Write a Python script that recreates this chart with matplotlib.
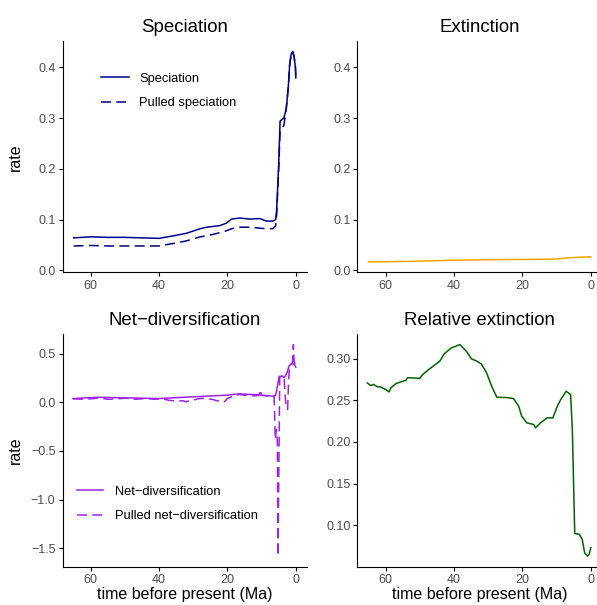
import matplotlib
matplotlib.use("Agg")
import matplotlib.pyplot as plt

plt.rcParams['font.family'] = ['Liberation Sans', 'DejaVu Sans']

# --- data (time in Ma before present) ---
t_spec = [65, 60, 55, 50, 45, 40, 35, 32, 28, 26, 22.3, 20.3, 18.8, 16.4, 13.5, 10.5, 8.6,
          6.7, 5.9, 5.6, 5.0, 4.6, 3.5, 2.8, 2.2, 1.8, 1.35, 0.9, 0.5, 0.1, 0]
speciation = [0.064, 0.066, 0.065, 0.065, 0.064, 0.063, 0.069, 0.073, 0.082, 0.085, 0.088,
              0.093, 0.101, 0.103, 0.101, 0.102, 0.097, 0.097, 0.100, 0.119, 0.21, 0.294,
              0.300, 0.318, 0.36, 0.405, 0.426, 0.431, 0.421, 0.399, 0.379]
pulled_speciation = [0.048, 0.049, 0.048, 0.048, 0.048, 0.048, 0.054, 0.058, 0.066, 0.068,
                     0.074, 0.078, 0.082, 0.085, 0.085, 0.083, 0.082, 0.082, 0.088, 0.11,
                     0.20, 0.275, 0.285, 0.318, 0.36, 0.405, 0.426, 0.431, 0.421, 0.399, 0.379]

t_ext = [65, 55, 45, 40, 30, 20.5, 10.7, 6.8, 3, 0]
extinction = [0.0165, 0.0175, 0.019, 0.020, 0.021, 0.0215, 0.022, 0.0245, 0.026, 0.0266]

t_net = [65.2, 57.6, 49.8, 40, 30.3, 20.5, 16.6, 10.7, 6.8, 5.9, 5.4, 4.9, 3.9, 3.4, 2.6,
         2.0, 1.2, 0.5, 0]
net_div = [0.038, 0.051, 0.045, 0.038, 0.055, 0.072, 0.086, 0.075, 0.062, 0.07, 0.16, 0.26,
           0.27, 0.25, 0.30, 0.37, 0.40, 0.39, 0.36]

t_pnet = [65.2, 62.0, 59.0, 57.6, 55.0, 52.0, 49.8, 47.0, 44.0, 41.0, 39.0, 37.1, 35.0, 33.0,
          32.2, 30.0, 28.0, 26.4, 24.5, 22.5, 21.0, 20.0, 18.5, 16.6, 14.6, 12.5, 10.8, 10.4,
          10.0, 8.5, 7.0, 6.35, 6.0, 5.7, 5.5, 5.4, 5.2, 4.7, 3.9, 3.4, 2.9, 2.4, 2.1, 1.8,
          1.0, 0.7, 0.5, 0.0]
pulled_net_div = [0.035, 0.03, 0.038, 0.045, 0.03, 0.035, 0.042, 0.03, 0.038, 0.03, 0.035,
                  0.02, 0.012, 0.015, 0.005, 0.022, 0.04, 0.038, 0.03, 0.01, 0.0, 0.04, 0.06,
                  0.08, 0.07, 0.065, 0.07, 0.13, 0.07, 0.065, 0.055, 0.06, -0.383, -0.28,
                  -0.33, -0.417, -1.581, 0.267, 0.267, 0.233, -0.04, -0.075, 0.233, 0.37,
                  0.40, 0.592, 0.42, 0.37]

t_rel = [65.4, 64.4, 63.6, 62.4, 61.5, 60.0, 59.0, 58.5, 57.0, 54.1, 53.6, 50.6, 50.1, 49.2,
         47.2, 44.2, 42.8, 40.8, 38.3, 36.4, 34.9, 33.4, 32.0, 30.5, 29.0, 27.5, 24.6, 22.6,
         21.1, 20.2, 18.7, 16.7, 16.2, 14.7, 12.8, 11.1, 9.8, 8.8, 7.2, 5.9, 5.4, 4.7, 3.4,
         2.5, 1.8, 1.0, 0.5, 0]
rel_ext = [0.2708, 0.2676, 0.269, 0.266, 0.266, 0.2628, 0.260, 0.2648, 0.270, 0.274, 0.277,
           0.2765, 0.276, 0.2808, 0.2876, 0.2968, 0.306, 0.3128, 0.3168, 0.3088, 0.2996,
           0.297, 0.2936, 0.283, 0.2668, 0.2536, 0.2532, 0.252, 0.2428, 0.2307, 0.2228,
           0.2208, 0.2168, 0.2228, 0.2288, 0.2288, 0.2428, 0.2508, 0.2608, 0.2568, 0.2148,
           0.0899, 0.0891, 0.0828, 0.0668, 0.0628, 0.0648, 0.0728]

xticks = [60, 40, 20, 0]
dash = (0, (6.5, 3.5))
grey = '#4D4D4D'


def padded(vals):
    lo, hi = min(vals), max(vals)
    d = 0.05 * (hi - lo)
    return lo - d, hi + d


def style(ax, title, ylim):
    ax.set_title(title, fontsize=13.4, pad=6.5)
    for s in ['top', 'right']:
        ax.spines[s].set_visible(False)
    for s in ['left', 'bottom']:
        ax.spines[s].set_linewidth(0.8)
    ax.set_xlim(68.25, -3.25)
    ax.set_ylim(*ylim)
    ax.set_xticks(xticks)
    ax.tick_params(length=2.6, width=0.8, pad=2.5, labelsize=9, labelcolor=grey)


fig = plt.figure(figsize=(5.97, 6.05), dpi=100)
w = 0.4094
ax1 = fig.add_axes([62.5 / 597, 0.5496, w, 0.3826])
ax2 = fig.add_axes([357.5 / 597, 0.5496, w, 0.3826])
ax3 = fig.add_axes([62.5 / 597, 0.0633, w, 0.3846])
ax4 = fig.add_axes([357.5 / 597, 0.0633, w, 0.3846])

top_lim = padded(speciation + pulled_speciation + extinction)

ax1.plot(t_spec, speciation, color='#00008B', lw=1.1, label='Speciation')
ax1.plot(t_spec, pulled_speciation, color='#00008B', lw=1.1, ls=dash, label='Pulled speciation')
style(ax1, 'Speciation', top_lim)
ax1.set_yticks([0.0, 0.1, 0.2, 0.3, 0.4])
ax1.set_ylabel('rate', fontsize=11.5)
ax1.yaxis.set_label_coords(-0.162, 0.5)
ax1.legend(loc='upper left', bbox_to_anchor=(0.157, 0.862), frameon=False, borderpad=0,
           borderaxespad=0, handlelength=2.14, handletextpad=0.83, labelspacing=0.94,
           fontsize=9.3)

ax2.plot(t_ext, extinction, color='#FFA500', lw=1.1)
style(ax2, 'Extinction', top_lim)
ax2.set_yticks([0.0, 0.1, 0.2, 0.3, 0.4])

ax3.plot(t_net, net_div, color='#A020F0', lw=1.1, label='Net\u2212diversification')
ax3.plot(t_pnet, pulled_net_div, color='#A020F0', lw=1.1, ls=dash,
         label='Pulled net\u2212diversification')
style(ax3, 'Net\u2212diversification', padded(net_div + pulled_net_div))
ax3.set_yticks([0.5, 0.0, -0.5, -1.0, -1.5])
ax3.set_ylabel('rate', fontsize=11.5)
ax3.yaxis.set_label_coords(-0.162, 0.5)
ax3.set_xlabel('time before present (Ma)', fontsize=11.5, labelpad=1)
ax3.legend(loc='upper left', bbox_to_anchor=(0.061, 0.349), frameon=False, borderpad=0,
           borderaxespad=0, handlelength=2.0, handletextpad=0.9, labelspacing=0.99,
           fontsize=9.3)

ax4.plot(t_rel, rel_ext, color='#006400', lw=1.1)
style(ax4, 'Relative extinction', padded(rel_ext))
ax4.set_yticks([0.10, 0.15, 0.20, 0.25, 0.30])
ax4.set_yticklabels(['0.10', '0.15', '0.20', '0.25', '0.30'])
ax4.set_xlabel('time before present (Ma)', fontsize=11.5, labelpad=1)

fig.savefig('out.png', dpi=100)
